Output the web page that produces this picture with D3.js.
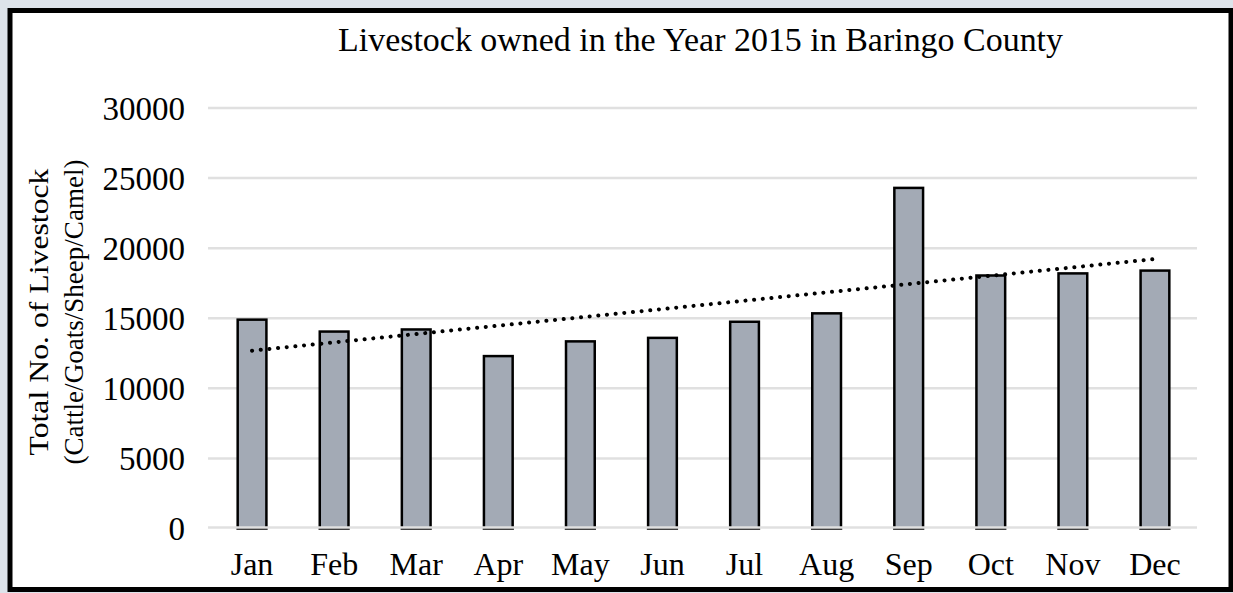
<!DOCTYPE html>
<html>
<head>
<meta charset="utf-8">
<script src="https://cdn.jsdelivr.net/npm/d3@7"></script>
<style>
  body { margin: 0; background: #fff; }
  svg text { font-family: "Liberation Serif", "Times New Roman", serif; fill: #000; }
</style>
</head>
<body>
<svg id="chart" width="1233" height="593"></svg>
<script>
const months = ["Jan", "Feb", "Mar", "Apr", "May", "Jun", "Jul", "Aug", "Sep", "Oct", "Nov", "Dec"];
const livestock = [14900, 14050, 14200, 12300, 13350, 13600, 14750, 15350, 24300, 18050, 18200, 18400];
const yTicks = [0, 5000, 10000, 15000, 20000, 25000, 30000];
const title = "Livestock owned in the Year 2015 in Baringo County";
const yLabel = ["Total No. of Livestock", "(Cattle/Goats/Sheep/Camel)"];

const svg = d3.select("#chart");
const width = 1233, height = 593;
const margin = { top: 108, right: 36, bottom: 64.5, left: 208 };

// outer frame
svg.append("rect").attr("width", width).attr("height", height).attr("fill", "#dde3ea");
svg.append("rect")
  .attr("x", 10).attr("y", 10.5)
  .attr("width", 1221).attr("height", 579)
  .attr("fill", "#fff").attr("stroke", "#000").attr("stroke-width", 5);

const x = d3.scaleBand()
  .domain(months)
  .range([211, 1196])
  .paddingInner(0.65)
  .paddingOuter(0.325);

const y = d3.scaleLinear()
  .domain([0, 30000])
  .range([height - margin.bottom, margin.top]);

// gridlines
svg.append("g")
  .selectAll("line")
  .data(yTicks.filter(d => d > 0))
  .join("line")
  .attr("x1", margin.left).attr("x2", width - margin.right)
  .attr("y1", d => y(d)).attr("y2", d => y(d))
  .attr("stroke", "#e0e0e0").attr("stroke-width", 2.5);

// bars
svg.append("g")
  .selectAll("rect")
  .data(livestock)
  .join("rect")
  .attr("x", (d, i) => x(months[i]))
  .attr("width", x.bandwidth())
  .attr("y", d => y(d))
  .attr("height", d => y(0) - y(d))
  .attr("fill", "#a3aab5")
  .attr("stroke", "#000")
  .attr("stroke-width", 2.5);

// zero line drawn over the bar bottoms
svg.append("line")
  .attr("x1", margin.left).attr("x2", width - margin.right)
  .attr("y1", y(0) - 1).attr("y2", y(0) - 1)
  .attr("stroke", "#e0e0e0").attr("stroke-width", 2.5);

// linear trendline (least squares over month index)
const n = livestock.length;
const mx = d3.mean(livestock, (d, i) => i);
const my = d3.mean(livestock);
const slope = d3.sum(livestock, (d, i) => (i - mx) * (d - my)) / d3.sum(livestock, (d, i) => (i - mx) ** 2);
const icpt = my - slope * mx;
const cx = i => x(months[i]) + x.bandwidth() / 2;
svg.append("path")
  .attr("d", d3.line()([[cx(0), y(icpt)], [cx(n - 1), y(icpt + slope * (n - 1))]]))
  .attr("stroke", "#000")
  .attr("stroke-width", 4)
  .attr("stroke-linecap", "round")
  .attr("stroke-dasharray", "0.1 8.6")
  .attr("fill", "none");

// y tick labels
svg.append("g")
  .selectAll("text")
  .data(yTicks)
  .join("text")
  .attr("x", 185)
  .attr("y", d => y(d))
  .attr("dy", "0.35em")
  .attr("text-anchor", "end")
  .attr("font-size", 33)
  .text(d => d);

// x labels
svg.append("g")
  .selectAll("text")
  .data(months)
  .join("text")
  .attr("x", d => x(d) + x.bandwidth() / 2)
  .attr("y", 575)
  .attr("text-anchor", "middle")
  .attr("font-size", 32)
  .text(d => d);

// title
svg.append("text")
  .attr("x", 338).attr("y", 51)
  .attr("font-size", 33)
  .attr("textLength", 725)
  .attr("lengthAdjust", "spacingAndGlyphs")
  .text(title);

// y axis title
const yLabelLen = [287, 305];
svg.append("g")
  .attr("transform", "translate(0,312) rotate(-90)")
  .selectAll("text")
  .data(yLabel)
  .join("text")
  .attr("x", (d, i) => -yLabelLen[i] / 2)
  .attr("y", (d, i) => 48 + i * 35)
  .attr("font-size", 28)
  .attr("textLength", (d, i) => yLabelLen[i])
  .attr("lengthAdjust", "spacingAndGlyphs")
  .text(d => d);
</script>
</body>
</html>
